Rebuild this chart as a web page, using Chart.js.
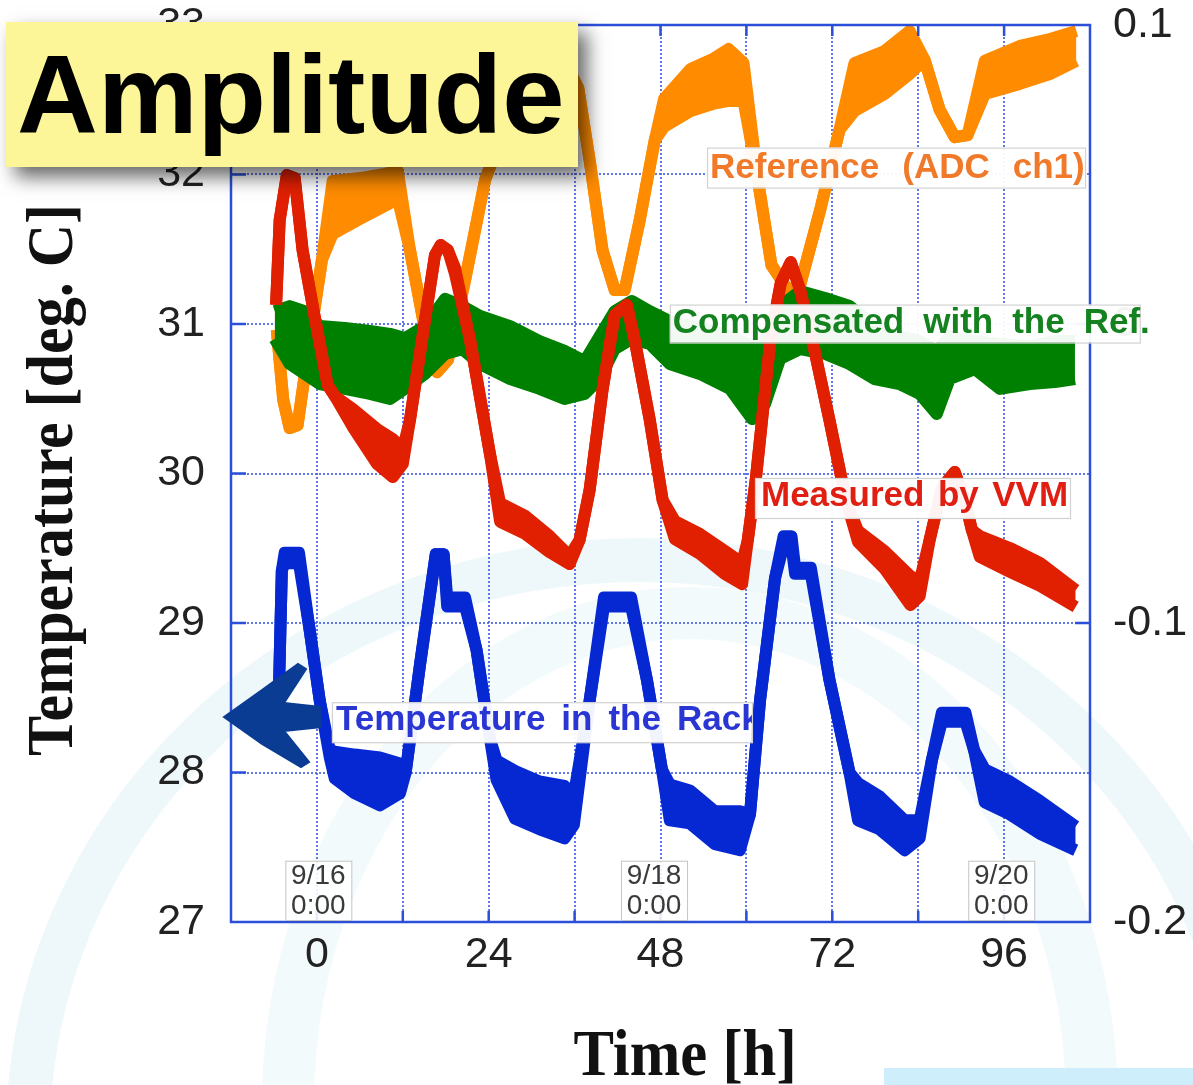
<!DOCTYPE html>
<html>
<head>
<meta charset="utf-8">
<script src="https://cdn.jsdelivr.net/npm/chart.js@4.4.1/dist/chart.umd.min.js"></script>
<style>
  html,body{margin:0;padding:0;background:#fff;overflow:hidden}
  canvas{display:block}
</style>
</head>
<body>
<canvas id="c" width="1193" height="1085" style="width:1193px;height:1085px"></canvas>
<script>
// ---- data ----
// time axis in hours, left axis deg C, right axis amplitude (arb.)
const xTicks = [0, 24, 48, 72, 96];

// Temperature in the Rack (left axis, deg C) : upper / lower edge of the noisy band
const rackT  = [-5.3,-4.9,-4.5,-2.5,-1.0,0.4,1.8,2.5,5.3,8.8,11.6,12.4,14.4,16.6,17.7,18.2,20.7,22.3,24.2,25.1,27.7,31.1,34.6,35.9,38.1,40.1,43.9,46.1,48.2,49.3,52.1,55.6,59.1,60.5,61.9,64.0,65.2,66.3,66.8,69.0,71.6,74.4,75.6,78.6,82.1,84.2,85.9,87.3,90.6,91.8,93.3,96.8,101.0,106.0];
const rackHi = [28.55,29.35,29.47,29.47,28.95,28.48,28.15,28.14,28.12,28.10,28.06,28.00,28.72,29.46,29.46,29.17,29.17,28.82,28.22,28.08,28.01,27.94,27.91,27.85,28.48,29.17,29.17,28.62,28.02,27.92,27.88,27.74,27.74,27.72,28.48,29.30,29.58,29.58,29.37,29.37,28.62,28.00,27.93,27.84,27.68,27.68,28.08,28.40,28.40,28.15,28.02,27.94,27.81,27.64];
const rackLo = [28.55,29.35,29.40,29.40,28.95,28.48,28.10,27.96,27.86,27.78,27.86,28.00,28.72,29.46,29.46,29.11,29.11,28.82,28.22,27.95,27.69,27.62,27.56,27.65,28.48,29.11,29.11,28.62,28.02,27.68,27.66,27.52,27.48,27.72,28.48,29.30,29.52,29.52,29.33,29.33,28.62,28.00,27.68,27.62,27.48,27.56,28.08,28.34,28.34,28.15,27.80,27.72,27.59,27.48];

// Measured by VVM (right axis)
const vvmT  = [-5.7,-5.2,-4.2,-3.1,-2.0,-0.3,1.5,2.5,5.0,8.4,10.6,12.0,13.0,15.1,16.5,17.3,18.3,19.3,21.4,24.2,25.6,29.1,32.5,35.3,36.7,38.1,39.9,41.6,43.3,44.4,46.5,48.3,50.0,53.5,57.0,59.4,60.2,61.3,63.4,64.8,66.2,67.5,69.3,71.6,73.9,75.6,79.3,82.9,84.2,85.6,87.3,89.1,90.5,91.5,92.6,96.8,101.0,106.0];
const vvmHi = [0.0064,0.0348,0.0498,0.0488,0.0247,0.0023,-0.0204,-0.0241,-0.0284,-0.0351,-0.0385,-0.0418,-0.0321,0.0013,0.0231,0.0264,0.0247,0.0187,-0.0054,-0.0438,-0.0599,-0.0642,-0.0709,-0.0776,-0.0722,-0.0555,-0.0221,0.0030,0.0064,-0.0054,-0.0321,-0.0589,-0.0659,-0.0702,-0.0759,-0.0799,-0.0722,-0.0522,-0.0043,0.0137,0.0207,0.0114,-0.0064,-0.0321,-0.0589,-0.0692,-0.0759,-0.0843,-0.0860,-0.0722,-0.0548,-0.0495,-0.0589,-0.0689,-0.0709,-0.0749,-0.0799,-0.0890];
const vvmLo = [0.0064,0.0348,0.0498,0.0488,0.0247,0.0023,-0.0204,-0.0241,-0.0344,-0.0468,-0.0512,-0.0468,-0.0321,0.0013,0.0231,0.0264,0.0247,0.0167,-0.0054,-0.0438,-0.0662,-0.0702,-0.0763,-0.0803,-0.0722,-0.0555,-0.0221,0.0030,0.0064,-0.0054,-0.0321,-0.0589,-0.0719,-0.0769,-0.0836,-0.0870,-0.0722,-0.0522,-0.0043,0.0137,0.0207,0.0114,-0.0064,-0.0321,-0.0589,-0.0729,-0.0819,-0.0940,-0.0910,-0.0722,-0.0548,-0.0495,-0.0589,-0.0689,-0.0779,-0.0829,-0.0876,-0.0946];

// Reference (ADC ch1) (right axis)
const refT  = [-5.6,-4.7,-3.8,-2.7,-1.0,0.7,2.2,6.0,9.5,11.3,13.0,15.1,16.8,18.3,20.7,23.5,25.6,29.7,33.9,36.5,38.1,39.9,41.6,43.0,45.1,47.2,48.5,52.2,55.3,57.5,59.6,61.6,63.5,65.8,67.5,70.3,73.0,75.1,79.3,82.8,84.9,87.0,89.1,90.9,93.3,98.2,102.4,106.1];
const refHi = [-0.0020,-0.0254,-0.0348,-0.0338,-0.0054,0.0214,0.0478,0.0488,0.0502,0.0512,0.0247,-0.0020,-0.0161,-0.0120,0.0147,0.0482,0.0615,0.0863,0.0913,0.0790,0.0548,0.0247,0.0114,0.0114,0.0348,0.0615,0.0753,0.0853,0.0886,0.0920,0.0873,0.0482,0.0197,0.0114,0.0130,0.0381,0.0649,0.0873,0.0913,0.0980,0.0883,0.0716,0.0625,0.0632,0.0880,0.0930,0.0953,0.0980];
const refLo = [-0.0020,-0.0254,-0.0348,-0.0338,-0.0054,0.0214,0.0301,0.0351,0.0395,0.0418,0.0247,-0.0020,-0.0161,-0.0120,0.0147,0.0482,0.0615,0.0736,0.0786,0.0790,0.0548,0.0247,0.0114,0.0114,0.0348,0.0615,0.0659,0.0712,0.0736,0.0746,0.0746,0.0482,0.0197,0.0114,0.0130,0.0381,0.0649,0.0712,0.0769,0.0836,0.0883,0.0716,0.0625,0.0632,0.0769,0.0803,0.0836,0.0880];

// Compensated with the Ref. (right axis)
const compT  = [-5.9,-3.8,-1.7,0.4,3.9,7.4,10.2,12.3,15.1,17.9,20.3,22.8,27.0,31.1,34.6,37.4,39.5,41.6,44.0,46.5,49.3,53.5,57.7,60.8,62.6,64.7,67.5,71.0,74.4,77.9,81.4,84.2,86.6,88.4,91.9,95.4,99.6,103.1,105.9];
const compHi = [0.0043,0.0060,0.0043,-0.0007,-0.0013,-0.0023,-0.0033,-0.0047,-0.0007,0.0084,0.0060,0.0027,-0.0007,-0.0057,-0.0090,-0.0124,-0.0040,0.0043,0.0077,0.0043,0.0010,-0.0013,-0.0040,-0.0074,-0.0057,0.0060,0.0110,0.0087,0.0060,-0.0007,-0.0040,-0.0057,-0.0090,-0.0040,-0.0057,-0.0067,-0.0074,-0.0057,-0.0057];
const compLo = [-0.0050,-0.0134,-0.0167,-0.0201,-0.0217,-0.0234,-0.0251,-0.0217,-0.0167,-0.0100,-0.0084,-0.0134,-0.0184,-0.0217,-0.0251,-0.0234,-0.0184,-0.0084,-0.0050,-0.0067,-0.0134,-0.0167,-0.0217,-0.0318,-0.0268,-0.0117,-0.0084,-0.0100,-0.0134,-0.0184,-0.0201,-0.0234,-0.0301,-0.0184,-0.0151,-0.0217,-0.0201,-0.0194,-0.0184];

// labels drawn in the plot (anchored in axis units: hours / deg C)
const notes = [
  {text:'Reference (ADC ch1)',       h:54.5, t:32.18, w:378, ht:40, color:'#f07a2a', gap:23,   base:30, inset:3},
  {text:'Compensated with the Ref.', h:49.3, t:31.13, w:470, ht:38, color:'#14821e', gap:19,   base:28, inset:3},
  {text:'Measured by VVM',           h:61.2, t:29.97, w:315, ht:40, color:'#e01e12', gap:13.5, base:28, inset:6},
  {text:'Temperature in the Rack',   h:2.1,  t:28.47, w:420, ht:40, color:'#2a36d4', gap:16,   base:28, inset:4, clip:true}
];
const dateNotes = [
  {lines:['9/16','0:00'], h:0.2},
  {lines:['9/18','0:00'], h:47.1},
  {lines:['9/20','0:00'], h:95.6}
];

const SANS = '"Liberation Sans", Arial, Helvetica, sans-serif';
const SERIF = '"Liberation Serif", "Times New Roman", serif';
const gridCol = 'rgba(70,95,228,0.85)';
const frameCol = '#2b4fd8';

const pts = (xs, ys) => xs.map((x, i) => ({x, y: ys[i]}));

// each series = upper edge (filled down to) lower edge, thick lines
function band(label, color, xs, hi, lo, axis, order, idx){
  const common = {borderColor: color, backgroundColor: color, borderWidth: 12, pointRadius: 0,
    tension: 0, borderJoinStyle: 'round', yAxisID: axis, order, clip: 0};
  return [
    Object.assign({label, data: pts(xs, hi), fill: idx + 1}, common),
    Object.assign({label: label + ' (low)', data: pts(xs, lo), fill: false}, common)
  ];
}

const datasets = [
  ...band('Measured by VVM', '#e02000', vvmT, vvmHi, vvmLo, 'y2', 1, 0),
  ...band('Compensated with the Ref.', '#008000', compT, compHi, compLo, 'y2', 2, 2),
  ...band('Reference (ADC ch1)', '#ff8c00', refT, refHi, refLo, 'y2', 3, 4),
  ...band('Temperature in the Rack', '#0628d2', rackT, rackHi, rackLo, 'y', 4, 6)
];

function wordsText(ctx, text, x, y, gap){
  let cx = x;
  text.split(' ').forEach(w => { ctx.fillText(w, cx, y); cx += ctx.measureText(w).width + gap; });
}

const deco = {
  id: 'deco',
  beforeDraw(chart){
    const {ctx, width, height} = chart;
    ctx.save();
    ctx.fillStyle = '#fff';
    ctx.fillRect(0, 0, width, height);
    // faint watermark rings
    ctx.strokeStyle = 'rgba(200,232,240,0.3)';
    ctx.lineWidth = 44;
    ctx.beginPath(); ctx.ellipse(640, 1135, 612, 575, 0, 0, Math.PI*2); ctx.stroke();
    ctx.lineWidth = 52;
    ctx.strokeStyle = 'rgba(205,235,242,0.24)';
    ctx.beginPath(); ctx.ellipse(690, 1105, 402, 492, 0, 0, Math.PI*2); ctx.stroke();
    ctx.fillStyle = '#cdeefa';
    ctx.fillRect(884, 1068, 309, 17);
    ctx.restore();
  },
  afterDraw(chart){
    const {ctx, chartArea: a, scales} = chart;
    const sx = scales.x, sy = scales.y, sy2 = scales.y2;
    ctx.save();

    // frame and inner tick marks
    ctx.strokeStyle = frameCol;
    ctx.lineWidth = 2.5;
    ctx.strokeRect(a.left, a.top, a.right - a.left, a.bottom - a.top);
    ctx.beginPath();
    for (let v = 28; v <= 32; v++){
      const p = sy.getPixelForValue(v);
      ctx.moveTo(a.left, p); ctx.lineTo(a.left + 15, p);
    }
    [-0.1, 0].forEach(v => {
      const p = sy2.getPixelForValue(v);
      ctx.moveTo(a.right - 15, p); ctx.lineTo(a.right, p);
    });
    for (let h = 0; h < 108; h += 12){
      const p = sx.getPixelForValue(h);
      ctx.moveTo(p, a.bottom); ctx.lineTo(p, a.bottom - 11);
      ctx.moveTo(p, a.top); ctx.lineTo(p, a.top + 11);
    }
    ctx.stroke();

    // date boxes
    ctx.font = '28px ' + SANS;
    ctx.textAlign = 'center';
    dateNotes.forEach(d => {
      const cx = sx.getPixelForValue(d.h), top = sy.getPixelForValue(27.41);
      ctx.fillStyle = 'rgba(255,255,255,0.88)';
      ctx.fillRect(cx - 33, top, 66, a.bottom - top - 1);
      ctx.strokeStyle = '#c4c4c4'; ctx.lineWidth = 1;
      ctx.strokeRect(cx - 33 + 0.5, top + 0.5, 66, a.bottom - top - 2);
      ctx.fillStyle = '#3a3a3a';
      ctx.fillText(d.lines[0], cx, top + 23);
      ctx.fillText(d.lines[1], cx, top + 53);
    });

    // curve labels
    ctx.textAlign = 'left';
    ctx.font = 'bold 35px ' + SANS;
    notes.forEach(n => {
      const x = sx.getPixelForValue(n.h), y = sy.getPixelForValue(n.t);
      ctx.fillStyle = 'rgba(255,255,255,0.95)';
      ctx.fillRect(x, y, n.w, n.ht);
      ctx.strokeStyle = '#d2d2d2'; ctx.lineWidth = 1.2;
      ctx.strokeRect(x + 0.5, y + 0.5, n.w, n.ht);
      ctx.save();
      if (n.clip){ ctx.beginPath(); ctx.rect(x, y, n.w, n.ht); ctx.clip(); }
      ctx.fillStyle = n.color;
      wordsText(ctx, n.text, x + n.inset, y + n.base, n.gap);
      ctx.restore();
    });

    // hand drawn arrow
    ctx.fillStyle = '#0b3c93';
    ctx.strokeStyle = '#0b3c93';
    ctx.lineWidth = 2;
    ctx.beginPath();
    ctx.moveTo(224, 717); ctx.lineTo(262, 690); ctx.lineTo(298, 664); ctx.lineTo(306, 669);
    ctx.lineTo(284, 703); ctx.lineTo(320, 707); ctx.lineTo(321, 727); ctx.lineTo(284, 731);
    ctx.lineTo(309, 762); ctx.lineTo(301, 767); ctx.lineTo(262, 744);
    ctx.closePath(); ctx.fill(); ctx.stroke();

    // title box
    ctx.save();
    ctx.shadowColor = 'rgba(0,0,0,0.6)';
    ctx.shadowBlur = 18; ctx.shadowOffsetX = 9; ctx.shadowOffsetY = 10;
    ctx.fillStyle = '#fdf698';
    ctx.fillRect(6, 22, 572, 145);
    ctx.restore();
    ctx.fillStyle = '#000';
    ctx.font = 'bold 112px ' + SANS;
    ctx.fillText('Amplitude', 17, 133);

    // axis titles
    ctx.font = 'bold 66px ' + SERIF;
    ctx.textAlign = 'center';
    ctx.fillStyle = '#111';
    ctx.save();
    ctx.translate(72, 480); ctx.rotate(-Math.PI/2); ctx.scale(0.91, 1);
    ctx.fillText('Temperature [deg. C]', 0, 0);
    ctx.restore();
    ctx.save();
    ctx.translate(685, 1075); ctx.scale(0.92, 1);
    ctx.fillText('Time [h]', 0, 0);
    ctx.restore();

    ctx.restore();
  }
};

const tickFont = {family: SANS, size: 43, lineHeight: 1};
const hidden = 'rgba(0,0,0,0)';

new Chart(document.getElementById('c'), {
  type: 'line',
  data: {datasets},
  options: {
    responsive: false,
    animation: false,
    devicePixelRatio: 1,
    layout: {padding: {top: 25, left: 0, right: 0, bottom: 0}},
    plugins: {legend: {display: false}, tooltip: {enabled: false}},
    scales: {
      x: {
        type: 'linear', min: -12, max: 108,
        afterFit: s => { s.height = 163; },
        ticks: {stepSize: 12, autoSkip: false, maxRotation: 0, padding: 12, color: '#222', font: tickFont,
          callback: v => xTicks.includes(v) ? String(v) : ''},
        grid: {color: gridCol, lineWidth: 2, drawTicks: false},
        border: {display: false, dash: [2, 2]}
      },
      y: {
        position: 'left', min: 27, max: 33,
        afterFit: s => { s.width = 231; },
        ticks: {stepSize: 1, padding: 0, color: '#222', font: tickFont},
        grid: {color: gridCol, lineWidth: 2, drawTicks: true, tickLength: 26, tickColor: hidden},
        border: {display: false, dash: [2, 2]}
      },
      y2: {
        position: 'right', min: -0.2, max: 0.1,
        afterFit: s => { s.width = 103; },
        ticks: {stepSize: 0.1, padding: 0, color: '#222', font: tickFont,
          callback: v => { const r = Math.round(v * 10) / 10; return r === 0 ? '0' : String(r); }},
        grid: {display: true, drawOnChartArea: false, color: hidden, drawTicks: true, tickLength: 23, tickColor: hidden},
        border: {display: false}
      }
    }
  },
  plugins: [deco]
});
</script>
</body>
</html>
